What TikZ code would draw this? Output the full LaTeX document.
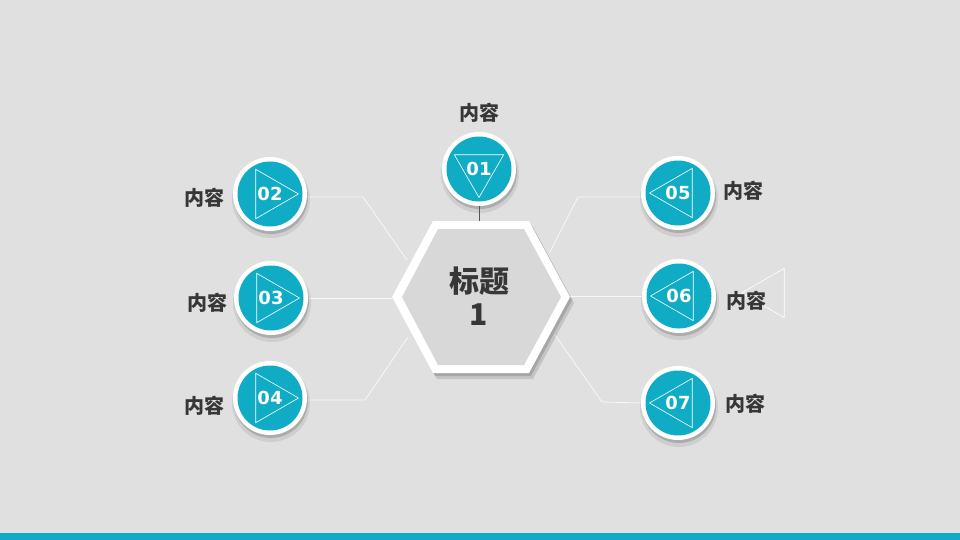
\documentclass[tikz,border=0pt]{standalone}
\usepackage{fontspec}
\newfontfamily\cjk{Noto Sans CJK SC}
\newfontfamily\numf{DejaVu Sans}
\usetikzlibrary{shapes.geometric}
\definecolor{bg}{RGB}{224,224,224}
\definecolor{tealc}{RGB}{16,172,197}
\definecolor{txt}{RGB}{55,55,55}
\definecolor{hexgray}{RGB}{216,216,216}
\definecolor{stemc}{RGB}{85,85,85}
\newcommand\bub[4]{%
  \fill[black,opacity=0.08] (#2) ++(1,5) circle (39);
  \fill[black,opacity=0.16] (#2) ++(1,3) circle (37);
  \node[ring] (c#1) at (#2) {};
  \node[core] (k#1) at (#2) {};
  \node[tri,rotate=#4] (g#1) at (#2) {};
  \node[num] (n#1) at (#2) {#3};
}
\begin{document}
\begin{tikzpicture}[x=1pt,y=-1pt,
  ring/.style={circle,fill=white,minimum size=74pt,inner sep=0pt},
  core/.style={circle,fill=tealc,minimum size=65pt,inner sep=0pt},
  tri/.style={regular polygon,regular polygon sides=3,draw=white,line width=0.6pt,minimum size=57pt,inner sep=0pt},
  num/.style={text=white,font=\numf\bfseries\fontsize{18}{20}\selectfont},
  lbl/.style={text=txt,font=\cjk\bfseries\fontsize{20}{24}\selectfont},
  link/.style={draw=white,opacity=0.75,line width=0.8pt},
  stem/.style={draw=stemc,line width=0.8pt}]
\useasboundingbox (0,0) rectangle (960,540);
\fill[bg] (0,0) rectangle (960,540);
\fill[tealc] (0,533) rectangle (960,540);

% anchor coordinates
\coordinate (p2) at (363,197);
\coordinate (q2) at (407,260);
\coordinate (p4) at (365,400);
\coordinate (q4) at (408,337);
\coordinate (p5) at (578,197);
\coordinate (q5) at (550,252);
\coordinate (p7) at (602,402);
\coordinate (q7) at (555,335);

% hexagon corners
\coordinate (hl) at (392,297);
\coordinate (htl) at (433,221);
\coordinate (htr) at (529,221);
\coordinate (hr) at (570,297);
\coordinate (hbr) at (529,373);
\coordinate (hbl) at (433,373);
\coordinate (htop) at (479,221);

% circle positions (visible bubbles drawn later)
\path (270,194) node[ring,draw=none,fill=none] (c2) {}
      (271,298) node[ring,draw=none,fill=none] (c3) {}
      (270,398) node[ring,draw=none,fill=none] (c4) {}
      (678,193) node[ring,draw=none,fill=none] (c5) {}
      (679,296) node[ring,draw=none,fill=none] (c6) {}
      (678,403) node[ring,draw=none,fill=none] (c7) {};

\draw[link] ([yshift=-3pt]c2.east) -- (p2) -- (q2);
\draw[link] (c3.east) -- (c3.east -| hl);
\draw[link] ([yshift=-2pt]c4.east) -- (p4) -- (q4);
\draw[link] ([yshift=-4pt]c5.west) -- (p5) -- (q5);
\draw[link] (c6.west) -- (c6.west -| hr);
\draw[link] (c7.west) -- (p7) -- (q7);

% stray triangle on the right
\node[tri,rotate=90] (s6) at (770,293) {};

% hexagon
\fill[black,opacity=0.12] (396,303) -- (437,227) -- (533,227) -- (574,303) -- (533,379) -- (437,379) -- cycle;
\fill[black,opacity=0.15] (394,300) -- (435,224) -- (531,224) -- (572,300) -- (531,376) -- (435,376) -- cycle;
\fill[white] (hl) -- (htl) -- (htr) -- (hr) -- (hbr) -- (hbl) -- cycle;
\fill[hexgray] (402,297) -- (438,229) -- (524,229) -- (561,297) -- (524,365) -- (438,365) -- cycle;
\node[text=txt,align=center,font=\cjk\bfseries\fontsize{30}{33}\selectfont] (title) at (479,296) {标题\\1};

% bubbles
\bub{1}{479,169}{01}{180}
\draw[stem] (c1.south) -- (htop);
\bub{2}{270,194}{02}{-90}
\bub{3}{271,298}{03}{-90}
\bub{4}{270,398}{04}{-90}
\bub{5}{678,193}{05}{90}
\bub{6}{679,296}{06}{90}
\bub{7}{678,403}{07}{90}

% labels
\node[lbl] (t1) at (479,113) {内容};
\node[lbl] (t2) at (204,198) {内容};
\node[lbl] (t3) at (207,303) {内容};
\node[lbl] (t4) at (204,406) {内容};
\node[lbl] (t5) at (743,191) {内容};
\node[lbl] (t6) at (746,301) {内容};
\node[lbl] (t7) at (745,404) {内容};
\end{tikzpicture}
\end{document}
